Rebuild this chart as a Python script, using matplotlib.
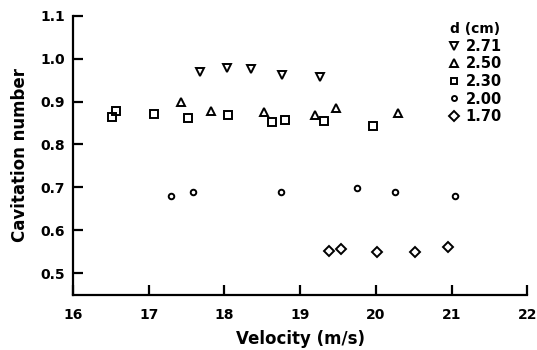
import numpy as np
import matplotlib.pyplot as plt

# cavitation number vs. velocity for several diameters d (cm)
v_271 = [17.68, 18.03, 18.35, 18.76, 19.26]
s_271 = [0.970, 0.978, 0.976, 0.961, 0.958]

v_250 = [17.43, 17.82, 18.52, 19.19, 19.47, 20.29]
s_250 = [0.900, 0.877, 0.875, 0.869, 0.886, 0.874]

v_230 = [16.51, 16.57, 17.07, 17.52, 18.05, 18.63, 18.80, 19.32, 19.96]
s_230 = [0.864, 0.877, 0.871, 0.861, 0.868, 0.852, 0.856, 0.854, 0.844]

v_200 = [17.30, 17.58, 18.75, 19.75, 20.25, 21.05]
s_200 = [0.679, 0.690, 0.689, 0.698, 0.689, 0.681]

v_170 = [19.38, 19.54, 20.01, 20.52, 20.95]
s_170 = [0.551, 0.557, 0.550, 0.550, 0.562]

labels = ['2.71', '2.50', '2.30', '2.00', '1.70']

plt.rc('font', family='DejaVu Sans', weight='bold', size=10)

fig = plt.figure(figsize=(5.37, 3.5), dpi=100)
ax = fig.add_axes([0.136, 0.157, 0.846, 0.798])

style = dict(linestyle='none', color='black', mfc='none', mew=1.4)
ax.plot(v_271, s_271, marker='v', ms=6, label=labels[0], **style)
ax.plot(v_250, s_250, marker='^', ms=6, label=labels[1], **style)
ax.plot(v_230, s_230, marker='s', ms=5.5, label=labels[2], **style)
ax.plot(v_200, s_200, marker='o', ms=4, label=labels[3], **style)
ax.plot(v_170, s_170, marker='D', ms=5.5, label=labels[4], **style)

ax.set_xlim(16, 22)
ax.set_ylim(0.449, 1.1)
ax.set_xticks(np.arange(16, 23, 1))
ax.set_yticks(np.arange(0.5, 1.11, 0.1))
ax.set_yticklabels(['0.5', '0.6', '0.7', '0.8', '0.9', '1.0', '1.1'])

for s in ['top', 'right']:
    ax.spines[s].set_visible(False)
for s in ['left', 'bottom']:
    ax.spines[s].set_linewidth(1.6)
ax.tick_params(direction='in', length=7, width=1.6, labelsize=10)
ax.tick_params(axis='y', pad=6)
ax.tick_params(axis='x', pad=9)

ax.set_xlabel('Velocity (m/s)', fontsize=12, fontweight='bold', labelpad=6)
ax.set_ylabel('Cavitation number', fontsize=12, fontweight='bold', labelpad=8)

leg = ax.legend(title='d (cm)', loc='upper right',
                bbox_to_anchor=(502 / 537, 1 - 22 / 350),
                bbox_transform=fig.transFigure, borderaxespad=0, borderpad=0,
                frameon=False, handletextpad=0.4, labelspacing=0.18,
                handlelength=0.8, markerscale=0.9,
                prop=dict(size=10.5, weight='bold'), title_fontsize=10)
leg.get_title().set_fontweight('bold')

plt.savefig('out.png', dpi=100)
